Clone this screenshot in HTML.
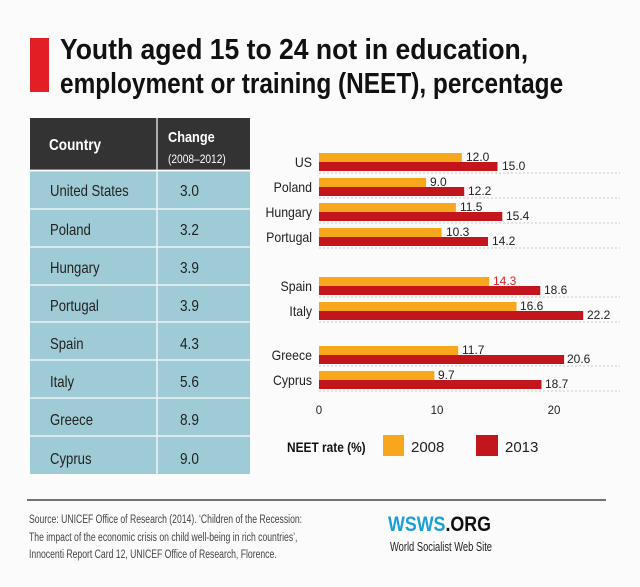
<!DOCTYPE html>
<html><head><meta charset="utf-8"><style>
html,body{margin:0;padding:0;background:#fbfbfb;}
svg{display:block;font-family:"Liberation Sans",sans-serif;}
</style></head><body>
<svg width="640" height="587" viewBox="0 0 640 587" xmlns="http://www.w3.org/2000/svg">
<rect width="640" height="587" fill="#fbfbfb"/>
<rect x="30" y="38" width="19" height="54" fill="#e31e24"/>
<g font-weight="bold" font-size="29" fill="#111">
<text x="60" y="59" transform="translate(60,0) scale(0.915,1) translate(-60,0)">Youth aged 15 to 24 not in education,</text>
<text x="60" y="93" transform="translate(60,0) scale(0.842,1) translate(-60,0)">employment or training (NEET), percentage</text>
</g>
<!-- table -->
<rect x="30" y="118" width="220" height="52" fill="#333333"/>
<rect x="30" y="171" width="220" height="303" fill="#9ecbd6"/>
<g stroke="#ffffff" stroke-width="1.5" opacity="0.8">
<line x1="157" y1="118" x2="157" y2="474"/>
<line x1="30" y1="170.5" x2="250" y2="170.5" stroke-width="2"/>
<line x1="30" y1="209" x2="250" y2="209"/>
<line x1="30" y1="247" x2="250" y2="247"/>
<line x1="30" y1="285" x2="250" y2="285"/>
<line x1="30" y1="322" x2="250" y2="322"/>
<line x1="30" y1="360" x2="250" y2="360"/>
<line x1="30" y1="398" x2="250" y2="398"/>
<line x1="30" y1="436" x2="250" y2="436"/>
</g>
<g fill="#fff" font-weight="bold">
<text x="49" y="150" font-size="16" transform="translate(49,0) scale(0.85,1) translate(-49,0)">Country</text>
<text x="168" y="142" font-size="15" transform="translate(168,0) scale(0.85,1) translate(-168,0)">Change</text>
<text x="168" y="163" font-size="12" font-weight="normal" transform="translate(168,0) scale(0.85,1) translate(-168,0)">(2008–2012)</text>
</g>
<g fill="#222" font-size="16">
<g transform="translate(50,0) scale(0.82,1) translate(-50,0)">
<text x="50" y="196">United States</text>
<text x="50" y="235">Poland</text>
<text x="50" y="273">Hungary</text>
<text x="50" y="311">Portugal</text>
<text x="50" y="349">Spain</text>
<text x="50" y="387">Italy</text>
<text x="50" y="425">Greece</text>
<text x="50" y="464">Cyprus</text>
</g>
<g transform="translate(180,0) scale(0.85,1) translate(-180,0)">
<text x="180" y="196">3.0</text>
<text x="180" y="235">3.2</text>
<text x="180" y="273">3.9</text>
<text x="180" y="311">3.9</text>
<text x="180" y="349">4.3</text>
<text x="180" y="387">5.6</text>
<text x="180" y="425">8.9</text>
<text x="180" y="464">9.0</text>
</g>
</g>
<!-- chart -->
<g stroke="#c8c8c8" stroke-width="1" stroke-dasharray="2,2">
<line x1="319" y1="173" x2="620" y2="173"/>
<line x1="319" y1="198" x2="620" y2="198"/>
<line x1="319" y1="223" x2="620" y2="223"/>
<line x1="319" y1="248" x2="620" y2="248"/>
<line x1="319" y1="297" x2="620" y2="297"/>
<line x1="319" y1="322" x2="620" y2="322"/>
<line x1="319" y1="366" x2="620" y2="366"/>
<line x1="319" y1="391" x2="620" y2="391"/>
</g>
<g id="bars">
<rect x="319" y="153" width="142.8" height="9" fill="#f8a61c"/><rect x="319" y="162" width="178.5" height="9" fill="#c3161c"/>
<rect x="319" y="178" width="107.1" height="9" fill="#f8a61c"/><rect x="319" y="187" width="145.2" height="9" fill="#c3161c"/>
<rect x="319" y="203" width="136.9" height="9" fill="#f8a61c"/><rect x="319" y="212" width="183.3" height="9" fill="#c3161c"/>
<rect x="319" y="228" width="122.6" height="9" fill="#f8a61c"/><rect x="319" y="237" width="169" height="9" fill="#c3161c"/>
<rect x="319" y="277" width="170.2" height="9" fill="#f8a61c"/><rect x="319" y="286" width="221.3" height="9" fill="#c3161c"/>
<rect x="319" y="302" width="197.5" height="9" fill="#f8a61c"/><rect x="319" y="311" width="264.2" height="9" fill="#c3161c"/>
<rect x="319" y="346" width="139.2" height="9" fill="#f8a61c"/><rect x="319" y="355" width="245.1" height="9" fill="#c3161c"/>
<rect x="319" y="371" width="115.4" height="9" fill="#f8a61c"/><rect x="319" y="380" width="222.5" height="9" fill="#c3161c"/>
</g>
<g font-size="14" fill="#222" text-anchor="end" transform="translate(312,0) scale(0.88,1) translate(-312,0)">
<text x="312" y="167">US</text>
<text x="312" y="192">Poland</text>
<text x="312" y="217">Hungary</text>
<text x="312" y="242">Portugal</text>
<text x="312" y="291">Spain</text>
<text x="312" y="316">Italy</text>
<text x="312" y="360">Greece</text>
<text x="312" y="385">Cyprus</text>
</g>
<g font-size="12" fill="#222">
<text x="466" y="161">12.0</text><text x="502" y="170">15.0</text>
<text x="430" y="186">9.0</text><text x="468" y="195">12.2</text>
<text x="460" y="211">11.5</text><text x="506" y="220">15.4</text>
<text x="446" y="236">10.3</text><text x="492" y="245">14.2</text>
<text x="493" y="285" fill="#d4262c">14.3</text><text x="544" y="294">18.6</text>
<text x="520" y="310">16.6</text><text x="587" y="319">22.2</text>
<text x="462" y="354">11.7</text><text x="567" y="363">20.6</text>
<text x="438" y="379">9.7</text><text x="545" y="388">18.7</text>
</g>
<g font-size="11.5" fill="#222" text-anchor="middle">
<text x="319" y="414">0</text><text x="437" y="414">10</text><text x="554" y="414">20</text>
</g>
<text x="287" y="452" font-size="14" font-weight="bold" fill="#111" transform="translate(287,0) scale(0.85,1) translate(-287,0)">NEET rate (%)</text>
<rect x="383" y="435" width="21" height="21" fill="#f8a61c"/>
<text x="411" y="452" font-size="15" fill="#222">2008</text>
<rect x="476" y="435" width="22" height="21" fill="#c3161c"/>
<text x="505" y="452" font-size="15" fill="#222">2013</text>
<!-- footer -->
<line x1="27" y1="500" x2="606" y2="500" stroke="#444" stroke-width="1.5"/>
<g font-size="12" fill="#444" transform="translate(29,0) scale(0.72,1) translate(-29,0)">
<text x="29" y="523">Source: UNICEF Office of Research (2014). ‘Children of the Recession:</text>
<text x="29" y="541">The impact of the economic crisis on child well-being in rich countries’,</text>
<text x="29" y="558">Innocenti Report Card 12, UNICEF Office of Research, Florence.</text>
</g>
<text x="388" y="531" font-size="21" font-weight="bold" fill="#1a9fd6" transform="translate(388,0) scale(0.85,1) translate(-388,0)">WSWS<tspan fill="#111">.ORG</tspan></text>
<text x="390" y="551" font-size="13" fill="#222" transform="translate(390,0) scale(0.72,1) translate(-390,0)">World Socialist Web Site</text>
</svg>
</body></html>
